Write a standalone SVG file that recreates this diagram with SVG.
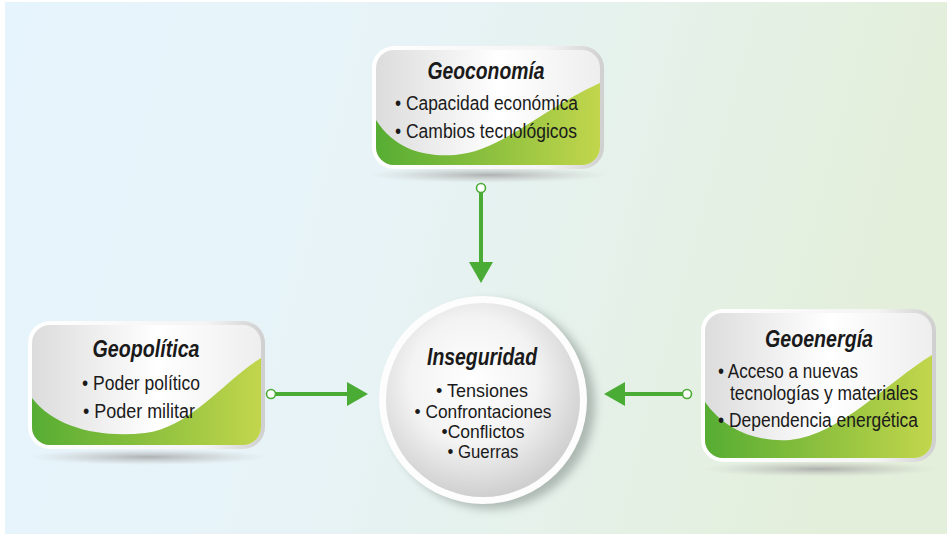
<svg xmlns="http://www.w3.org/2000/svg" width="947" height="534" viewBox="0 0 947 534">
<defs>
<style>
.t{font-family:"Liberation Sans",Arial,sans-serif;fill:#1a1a1a;}
.h{font-weight:bold;font-style:italic;font-size:23px;text-anchor:middle;}
.b{font-size:20px;}
.c{font-size:18.5px;text-anchor:middle;}
.ln{stroke:#4aab35;stroke-width:4;fill:none;}
.dot{fill:#fff;stroke:#4aab35;stroke-width:1.6;}
.hd{fill:#4aab35;}
</style>
<linearGradient id="bg" x1="0" y1="0" x2="1" y2="0.15">
<stop offset="0" stop-color="#e6f4fd"/>
<stop offset="0.45" stop-color="#e7f3f6"/>
<stop offset="1" stop-color="#e3efda"/>
</linearGradient>
<linearGradient id="frame" x1="0" y1="0" x2="1" y2="0">
<stop offset="0" stop-color="#ffffff"/>
<stop offset="0.75" stop-color="#f4f4f4"/>
<stop offset="1" stop-color="#cfcfcf"/>
</linearGradient>
<linearGradient id="inner" x1="0" y1="0" x2="1" y2="0">
<stop offset="0" stop-color="#dcdcdc"/>
<stop offset="0.55" stop-color="#ffffff"/>
<stop offset="1" stop-color="#eeeeee"/>
</linearGradient>
<linearGradient id="green" x1="0" y1="0" x2="1" y2="0">
<stop offset="0" stop-color="#56ad33"/>
<stop offset="0.5" stop-color="#8cc03e"/>
<stop offset="1" stop-color="#c2d64c"/>
</linearGradient>
<radialGradient id="shadow" cx="0.5" cy="0.5" r="0.5">
<stop offset="0" stop-color="#9a9a9a" stop-opacity="0.75"/>
<stop offset="0.6" stop-color="#b5b5b5" stop-opacity="0.35"/>
<stop offset="1" stop-color="#c8c8c8" stop-opacity="0"/>
</radialGradient>
<radialGradient id="ball" cx="0.45" cy="0.4" r="0.6">
<stop offset="0" stop-color="#ffffff"/>
<stop offset="0.55" stop-color="#f3f3f3"/>
<stop offset="1" stop-color="#cfcfcf"/>
</radialGradient>
<filter id="blur" x="-20%" y="-20%" width="140%" height="140%">
<feGaussianBlur stdDeviation="5"/>
</filter>
<clipPath id="cp1"><rect x="376" y="50" width="224" height="115" rx="18"/></clipPath>
<clipPath id="cp2"><rect x="32" y="325" width="229" height="120" rx="18"/></clipPath>
<clipPath id="cp3"><rect x="705" y="313" width="227" height="145" rx="18"/></clipPath>
</defs>
<rect x="5" y="2" width="942" height="532" fill="url(#bg)"/>

<g id="connectors">
<line class="ln" x1="481" y1="192" x2="481" y2="264"/>
<polygon class="hd" points="469,262 493,262 481,283"/>
<circle class="dot" cx="481" cy="188" r="4.5"/>
<line class="ln" x1="275" y1="394" x2="349" y2="394"/>
<polygon class="hd" points="347,382 347,406 368,394"/>
<circle class="dot" cx="271" cy="394" r="4.5"/>
<line class="ln" x1="683" y1="394" x2="623" y2="394"/>
<polygon class="hd" points="625,382 625,406 604,394"/>
<circle class="dot" cx="687" cy="394" r="4.5"/>
</g>

<g id="geoconomia">
<ellipse cx="488" cy="175" rx="120" ry="8" fill="url(#shadow)"/>
<rect x="372" y="46" width="232" height="123" rx="22" fill="url(#frame)"/>
<rect x="376" y="50" width="224" height="115" rx="18" fill="url(#inner)"/>
<path clip-path="url(#cp1)" fill="url(#green)" d="M376,120 C395,150 425,157 455,155 C500,152 540,110 600,83 L600,165 L376,165 Z"/>
<text class="t h" x="486" y="79" textLength="117" lengthAdjust="spacingAndGlyphs">Geoconomía</text>
<text class="t b" x="395" y="110" textLength="183" lengthAdjust="spacingAndGlyphs">• Capacidad económica</text>
<text class="t b" x="395" y="138" textLength="182" lengthAdjust="spacingAndGlyphs">• Cambios tecnológicos</text>
</g>

<g id="geopolitica">
<ellipse cx="148" cy="457" rx="120" ry="8" fill="url(#shadow)"/>
<rect x="28" y="321" width="237" height="128" rx="22" fill="url(#frame)"/>
<rect x="32" y="325" width="229" height="120" rx="18" fill="url(#inner)"/>
<path clip-path="url(#cp2)" fill="url(#green)" d="M32,398 C55,428 100,438 145,433 C190,428 225,380 261,358 L261,445 L32,445 Z"/>
<text class="t h" x="146" y="357" textLength="107" lengthAdjust="spacingAndGlyphs">Geopolítica</text>
<text class="t b" x="82" y="390" textLength="118" lengthAdjust="spacingAndGlyphs">• Poder político</text>
<text class="t b" x="83" y="418" textLength="112" lengthAdjust="spacingAndGlyphs">• Poder militar</text>
</g>

<g id="geoenergia">
<ellipse cx="820" cy="469" rx="118" ry="8" fill="url(#shadow)"/>
<rect x="701" y="309" width="235" height="153" rx="22" fill="url(#frame)"/>
<rect x="705" y="313" width="227" height="145" rx="18" fill="url(#inner)"/>
<path clip-path="url(#cp3)" fill="url(#green)" d="M705,402 C725,430 755,442 790,440 C840,435 890,380 932,355 L932,458 L705,458 Z"/>
<text class="t h" x="819" y="347" textLength="108" lengthAdjust="spacingAndGlyphs">Geoenergía</text>
<text class="t b" x="718" y="378" textLength="140" lengthAdjust="spacingAndGlyphs">• Acceso a nuevas</text>
<text class="t b" x="730" y="400" textLength="188" lengthAdjust="spacingAndGlyphs">tecnologías y materiales</text>
<text class="t b" x="718" y="427" textLength="200" lengthAdjust="spacingAndGlyphs">• Dependencia energética</text>
</g>

<g id="inseguridad">
<circle cx="491" cy="405" r="104" fill="#7f8a86" opacity="0.55" filter="url(#blur)"/>
<circle cx="483" cy="400" r="104" fill="#fdfdfd"/>
<circle cx="483" cy="400" r="97" fill="url(#ball)"/>
<text class="t h" x="482" y="365" textLength="110" lengthAdjust="spacingAndGlyphs">Inseguridad</text>
<text class="t c" x="482" y="397" textLength="92" lengthAdjust="spacingAndGlyphs">• Tensiones</text>
<text class="t c" x="483" y="418" textLength="137" lengthAdjust="spacingAndGlyphs">• Confrontaciones</text>
<text class="t c" x="483" y="438" textLength="83" lengthAdjust="spacingAndGlyphs">•Conflictos</text>
<text class="t c" x="483" y="458" textLength="71" lengthAdjust="spacingAndGlyphs">• Guerras</text>
</g>
</svg>
